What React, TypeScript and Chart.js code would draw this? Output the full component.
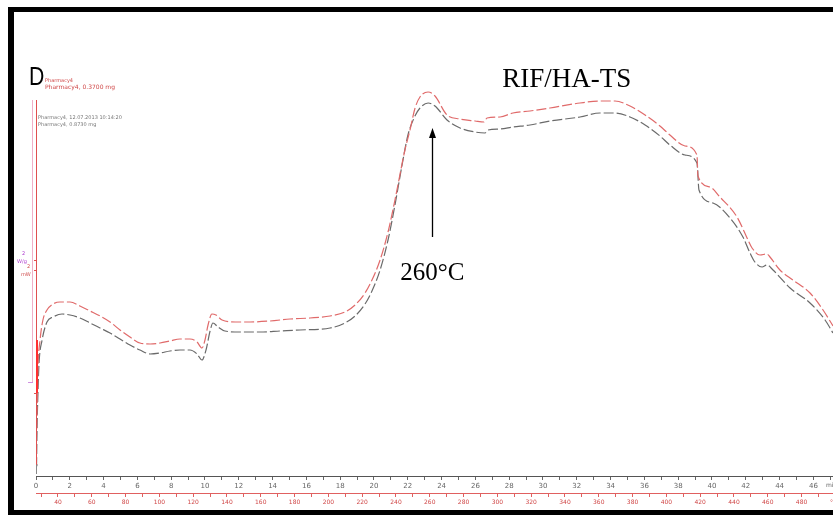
import React, { useEffect, useRef } from "react";
import { Chart, registerables } from "chart.js";

Chart.register(...registerables);

// Time (min) and heat flow (arbitrary mW units)
const redTime = [0.0, 0.06, 0.12, 0.24, 0.41, 0.65, 1.01, 1.42, 2.01, 2.6, 3.2, 3.79, 4.38, 4.97, 5.56, 6.15, 6.75, 7.34, 7.93, 8.52, 9.11, 9.53, 9.82, 10.0, 10.18, 10.41, 10.65, 11.01, 11.78, 12.66, 13.85, 15.03, 16.21, 17.4, 18.28, 18.88, 19.47, 19.88, 20.36, 20.83, 21.24, 21.83, 22.13, 22.43, 22.72, 23.2, 23.61, 24.32, 25.09, 25.98, 26.51, 26.69, 27.46, 28.22, 29.23, 30.41, 32.19, 33.37, 34.26, 35.15, 36.04, 36.92, 37.51, 38.4, 39.11, 39.17, 39.88, 40.47, 41.48, 42.13, 42.37, 42.84, 43.25, 43.43, 44.02, 44.79, 45.8, 46.57, 47.16];
const redHeat = [1.05, 3.15, 5.45, 6.8, 7.8, 8.3, 8.6, 8.7, 8.7, 8.5, 8.25, 8.0, 7.7, 7.3, 6.95, 6.65, 6.6, 6.65, 6.75, 6.85, 6.85, 6.7, 6.4, 6.8, 7.55, 8.1, 8.05, 7.8, 7.7, 7.7, 7.75, 7.85, 7.9, 8.0, 8.2, 8.55, 9.15, 9.8, 10.8, 12.2, 13.8, 16.3, 17.3, 18.4, 18.95, 19.2, 19.0, 18.05, 17.85, 17.75, 17.7, 17.9, 17.95, 18.15, 18.25, 18.4, 18.65, 18.75, 18.75, 18.5, 18.05, 17.5, 17.05, 16.5, 16.05, 15.0, 14.45, 13.95, 12.95, 11.8, 11.4, 11.05, 11.1, 10.95, 10.3, 9.8, 9.15, 8.3, 7.5];

const grayTime = [0.03, 0.06, 0.12, 0.18, 0.36, 0.65, 1.01, 1.54, 2.01, 2.6, 3.2, 3.79, 4.38, 4.97, 5.56, 6.15, 6.75, 7.34, 7.93, 8.52, 9.11, 9.53, 9.82, 10.06, 10.3, 10.47, 10.77, 11.18, 12.07, 13.25, 14.44, 15.62, 17.4, 18.28, 18.88, 19.47, 19.88, 20.36, 20.83, 21.24, 21.66, 22.01, 22.37, 22.72, 23.2, 23.61, 24.32, 25.09, 25.98, 26.57, 26.75, 27.46, 28.22, 29.23, 30.41, 32.19, 33.37, 34.26, 35.15, 36.04, 36.92, 37.51, 38.4, 39.11, 39.23, 40.06, 41.07, 41.83, 42.25, 42.54, 42.96, 43.25, 43.61, 44.62, 45.8, 46.69, 47.16];
const grayHeat = [0.45, 2.3, 4.3, 5.65, 6.8, 7.7, 7.95, 8.1, 8.05, 7.9, 7.65, 7.4, 7.15, 6.85, 6.55, 6.3, 6.1, 6.15, 6.25, 6.3, 6.3, 6.1, 5.8, 6.3, 7.25, 7.65, 7.45, 7.25, 7.2, 7.2, 7.25, 7.3, 7.4, 7.65, 8.0, 8.6, 9.25, 10.3, 11.8, 13.55, 15.55, 17.05, 17.9, 18.4, 18.65, 18.5, 17.8, 17.4, 17.2, 17.15, 17.3, 17.35, 17.45, 17.55, 17.75, 17.95, 18.15, 18.15, 17.95, 17.55, 17.0, 16.55, 16.05, 15.65, 14.3, 13.65, 12.9, 11.95, 11.15, 10.7, 10.45, 10.55, 10.3, 9.4, 8.65, 7.8, 7.15];

// Axis ticks
const timeTicks = [0, 1, 2, 3, 4, 5, 6, 7, 8, 9, 10, 11, 12, 13, 14, 15, 16, 17, 18, 19, 20, 21, 22, 23, 24, 25, 26, 27, 28, 29, 30, 31, 32, 33, 34, 35, 36, 37, 38, 39, 40, 41, 42, 43, 44, 45, 46, 47];
const timeLabels = [0, 2, 4, 6, 8, 10, 12, 14, 16, 18, 20, 22, 24, 26, 28, 30, 32, 34, 36, 38, 40, 42, 44, 46];
const tempTicks = [30, 40, 50, 60, 70, 80, 90, 100, 110, 120, 130, 140, 150, 160, 170, 180, 190, 200, 210, 220, 230, 240, 250, 260, 270, 280, 290, 300, 310, 320, 330, 340, 350, 360, 370, 380, 390, 400, 410, 420, 430, 440, 450, 460, 470, 480, 490];
const tempLabels = [40, 60, 80, 100, 120, 140, 160, 180, 200, 220, 240, 260, 280, 300, 320, 340, 360, 380, 400, 420, 440, 460, 480];

const TIME_MAX = 47.16;
const TEMP_MIN = 27;
const TEMP_MAX = 498.6;
const HEAT_MAX = 23;

const RED = "#e06a6a";
const GRAY = "#6a6a6a";

const decor = {
  id: "decor",
  afterDraw(chart: any) {
    const ctx: CanvasRenderingContext2D = chart.ctx;
    const xs = chart.scales.x;
    const ys = chart.scales.y;
    const px = (t: number) => xs.getPixelForValue(t);
    const py = (v: number) => ys.getPixelForValue(v);
    ctx.save();

    // black frame
    ctx.fillStyle = "#000";
    ctx.fillRect(8, 7, 833, 5);
    ctx.fillRect(8, 7, 6, 508);
    ctx.fillRect(8, 510, 833, 5);

    // red y axis line
    const x0 = px(0);
    ctx.strokeStyle = "#e05050";
    ctx.lineWidth = 1;
    ctx.beginPath();
    ctx.moveTo(x0 + 0.5, py(18.8));
    ctx.lineTo(x0 + 0.5, py(0.3));
    ctx.stroke();
    // pink line
    ctx.strokeStyle = "#f0b0c8";
    ctx.beginPath();
    ctx.moveTo(x0 - 3.5, py(18.8));
    ctx.lineTo(x0 - 3.5, py(4.7));
    ctx.stroke();
    // darker segment
    ctx.strokeStyle = "#ff3030";
    ctx.lineWidth = 2;
    ctx.beginPath();
    ctx.moveTo(x0 + 1, py(6.8));
    ctx.lineTo(x0 + 1, py(4.15));
    ctx.stroke();
    // small ticks
    ctx.lineWidth = 1;
    ctx.strokeStyle = "#e05050";
    [10.8, 10.3, 4.15].forEach((v) => {
      ctx.beginPath();
      ctx.moveTo(x0 - 2, py(v) + 0.5);
      ctx.lineTo(x0 + 1, py(v) + 0.5);
      ctx.stroke();
    });
    ctx.strokeStyle = "#d090e0";
    ctx.beginPath();
    ctx.moveTo(x0 - 8, py(4.7) + 0.5);
    ctx.lineTo(x0 - 3, py(4.7) + 0.5);
    ctx.stroke();

    // y unit labels
    ctx.textAlign = "left";
    ctx.textBaseline = "middle";
    ctx.font = "5px 'DejaVu Sans'";
    ctx.fillStyle = "#b040d0";
    ctx.fillText("2", 22, py(11.1));
    ctx.fillText("W/g", 17, py(10.7));
    ctx.fillStyle = "#d05050";
    ctx.fillText("2", 27, py(10.45));
    ctx.fillText("mW", 21, py(10.05));

    // "D" label
    ctx.fillStyle = "#000";
    ctx.textBaseline = "alphabetic";
    ctx.save();
    ctx.translate(29, 85);
    ctx.scale(0.85, 1);
    ctx.font = "25px 'Liberation Sans'";
    ctx.fillText("D", 0, 0);
    ctx.restore();

    ctx.fillStyle = "#d04848";
    ctx.font = "5px 'DejaVu Sans'";
    ctx.fillText("Pharmacy4", 45, 82);
    ctx.font = "6px 'DejaVu Sans'";
    ctx.fillText("Pharmacy4, 0.3700 mg", 45, 89);

    ctx.fillStyle = "#777";
    ctx.font = "5px 'DejaVu Sans'";
    ctx.fillText("Pharmacy4, 12.07.2013 10:14:20", 38, 119);
    ctx.fillText("Pharmacy4, 0.8730 mg", 38, 126);

    // title
    ctx.fillStyle = "#000";
    ctx.font = "27px 'Liberation Serif'";
    ctx.textAlign = "center";
    ctx.fillText("RIF/HA-TS", px(31.4), py(19.45));

    // arrow + annotation
    const ax = Math.round(px(23.43)) + 0.5;
    ctx.strokeStyle = "#000";
    ctx.lineWidth = 1.3;
    ctx.beginPath();
    ctx.moveTo(ax, py(11.95));
    ctx.lineTo(ax, py(17.0));
    ctx.stroke();
    ctx.beginPath();
    ctx.moveTo(ax, py(17.4));
    ctx.lineTo(ax - 3.5, py(16.9));
    ctx.lineTo(ax + 3.5, py(16.9));
    ctx.closePath();
    ctx.fill();
    ctx.font = "25px 'Liberation Serif'";
    ctx.fillText("260°C", px(23.45), py(9.8));

    // bracket near origin
    ctx.strokeStyle = "#888";
    ctx.lineWidth = 1;
    ctx.beginPath();
    ctx.moveTo(x0 + 2, py(0.55));
    ctx.lineTo(x0 + 0.5, py(0.55));
    ctx.lineTo(x0 + 0.5, py(0.1));
    ctx.stroke();

    // axis units
    ctx.textAlign = "left";
    ctx.textBaseline = "middle";
    ctx.font = "6px 'DejaVu Sans'";
    ctx.fillStyle = "#666";
    ctx.fillText("min", 826, 485);
    ctx.fillStyle = "#d04848";
    ctx.fillText("°C", 830, 502);

    ctx.restore();
  },
};

export default function App() {
  const ref = useRef<HTMLCanvasElement | null>(null);

  useEffect(() => {
    if (!ref.current) return;
    const timeLabelSet = new Set(timeLabels);
    const tempLabelSet = new Set(tempLabels);
    const chart = new Chart(ref.current, {
      type: "line",
      data: {
        datasets: [
          {
            label: "Pharmacy4, 0.3700 mg",
            data: redTime.map((t, i) => ({ x: t, y: redHeat[i] })),
            borderColor: RED,
            borderWidth: 1.2,
            borderDash: [10, 3],
            pointRadius: 0,
            cubicInterpolationMode: "monotone",
            xAxisID: "x",
            yAxisID: "y",
          },
          {
            label: "Pharmacy4, 0.8730 mg",
            data: grayTime.map((t, i) => ({ x: t, y: grayHeat[i] })),
            borderColor: GRAY,
            borderWidth: 1.2,
            borderDash: [10, 3],
            pointRadius: 0,
            cubicInterpolationMode: "monotone",
            xAxisID: "x",
            yAxisID: "y",
          },
        ],
      },
      options: {
        animation: false,
        responsive: true,
        maintainAspectRatio: false,
        layout: { padding: { left: 36, right: 0, top: 16, bottom: 6.8 } },
        plugins: { legend: { display: false }, tooltip: { enabled: false } },
        scales: {
          x: {
            type: "linear",
            position: "bottom",
            weight: 0,
            min: 0,
            max: TIME_MAX,
            afterBuildTicks: (s: any) => {
              s.ticks = timeTicks.map((value) => ({ value }));
            },
            grid: { display: true, drawOnChartArea: false, drawTicks: true, tickLength: 4, color: "#666" },
            border: { display: true, color: "#555", width: 1 },
            ticks: {
              autoSkip: false,
              maxRotation: 0,
              includeBounds: false,
              padding: 2.3,
              color: "#666",
              font: { size: 7, family: "'DejaVu Sans'" },
              callback: (v: any) => (timeLabelSet.has(Number(v)) ? String(v) : ""),
            },
          },
          x2: {
            type: "linear",
            position: "bottom",
            weight: 1,
            min: TEMP_MIN,
            max: TEMP_MAX,
            afterBuildTicks: (s: any) => {
              s.ticks = tempTicks.map((value) => ({ value }));
            },
            grid: { display: true, drawOnChartArea: false, drawTicks: true, tickLength: 4, color: "#e06060" },
            border: { display: true, color: "#e06060", width: 1 },
            ticks: {
              autoSkip: false,
              maxRotation: 0,
              includeBounds: false,
              padding: 2,
              color: "#d04848",
              font: { size: 6, family: "'DejaVu Sans'" },
              callback: (v: any) => (tempLabelSet.has(Number(v)) ? String(v) : ""),
            },
          },
          y: {
            type: "linear",
            display: false,
            min: 0,
            max: HEAT_MAX,
          },
        },
      },
      plugins: [decor],
    });
    return () => chart.destroy();
  }, []);

  return (
    <div style={{ position: "absolute", left: 0, top: 0, width: 833, height: 515, background: "#fff" }}>
      <canvas ref={ref} />
    </div>
  );
}
